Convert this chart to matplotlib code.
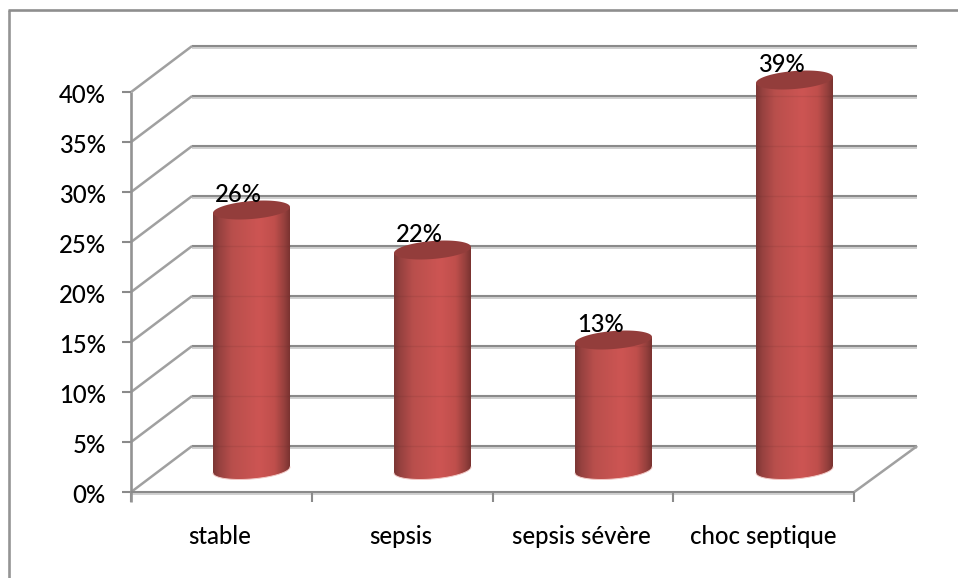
import numpy as np
import matplotlib
matplotlib.use("Agg")
import matplotlib.pyplot as plt
from matplotlib.colors import LinearSegmentedColormap
from matplotlib.path import Path
from matplotlib.patches import PathPatch

plt.rcParams["font.family"] = ["Lato", "DejaVu Sans"]
plt.rcParams["font.weight"] = 500

categories = ["stable", "sepsis", "sepsis sévère", "choc septique"]
values = [26, 22, 13, 39]
labels = ["26%", "22%", "13%", "39%"]
y_ticks = [0, 5, 10, 15, 20, 25, 30, 35, 40]

W, H = 958, 578
GRID = "#8a8a8a"
GRID_SOFT = "#c8c8c8"
FONT = 17.2

fig = plt.figure(figsize=(W / 100, H / 100), dpi=100)
ax = fig.add_axes([0, 0, 1, 1])

# Data space: x in category slots, y in percent, both linear across the canvas.
SLOT = 181.0
X0 = 251.5
Y0 = 470.0
PER_PCT = 10.0
XLIM = (-X0 / SLOT, (W - X0) / SLOT)
YLIM = ((Y0 - H) / PER_PCT, Y0 / PER_PCT)
ax.set_xlim(*XLIM)
ax.set_ylim(*YLIM)
ax.axis("off")

# Oblique depth of the 3D box, in data units.
FRONT_X, FRONT_DY = -0.665, -2.2
BACK_X, BACK_DY = -0.328, 2.4
RIGHT_FRONT = 3.33
RIGHT_BACK = 3.678
Y_MAX = y_ticks[-1]


def line(xs, ys, color=GRID, lw=1.5, z=2):
    ax.plot(xs, ys, color=color, lw=lw, solid_capstyle="butt", zorder=z)


# Outer frame, open at the right and bottom.
fx0, fx1 = (9 - X0) / SLOT, XLIM[1]
fy0, fy1 = YLIM[0], (Y0 - 9.5) / PER_PCT
line([fx0, fx0], [fy0, fy1], "#949494", 1.9)
line([fx0 - 0.006, fx1], [fy1, fy1], "#8e8e8e", 1.9)

# Back wall grid lines and the oblique side wall lines.
for t in y_ticks:
    line([BACK_X, RIGHT_BACK], [t + BACK_DY, t + BACK_DY], GRID, 1.5)
    line([BACK_X, RIGHT_BACK], [t + BACK_DY - 0.17, t + BACK_DY - 0.17], GRID_SOFT, 1.2, 1)
    line([FRONT_X, BACK_X], [t + FRONT_DY, t + BACK_DY], "#a0a0a0", 1.8)
    # Tick to the left of the value axis.
    line([FRONT_X - 0.05, FRONT_X], [t + FRONT_DY, t + FRONT_DY], GRID, 1.5)
    ax.text(FRONT_X - 0.14, t + FRONT_DY - 0.15, f"{t}%", ha="right", va="center_baseline",
            fontsize=FONT, color="black")

# Front edges of the floor and the value axis.
line([FRONT_X, FRONT_X], [FRONT_DY - 0.95, Y_MAX + FRONT_DY], "#939393", 1.9, 3)
line([FRONT_X, RIGHT_FRONT], [FRONT_DY, FRONT_DY], GRID, 1.5, 3)
line([FRONT_X, RIGHT_FRONT], [FRONT_DY - 0.17, FRONT_DY - 0.17], GRID_SOFT, 1.2, 2)
line([RIGHT_FRONT, RIGHT_BACK], [FRONT_DY, BACK_DY], "#a0a0a0", 1.8)
for i in range(5):
    x = FRONT_X + i * (RIGHT_FRONT - FRONT_X) / 4
    line([x, x], [FRONT_DY - 0.95, FRONT_DY], GRID, 1.5)

# Cylinders: horizontal shading clipped to the body, with a tilted elliptical cap.
shade = LinearSegmentedColormap.from_list(
    "cyl",
    [(0.00, "#7b3634"), (0.08, "#96413f"), (0.25, "#b94f4c"), (0.60, "#cd5553"),
     (0.80, "#c04f4c"), (0.93, "#95403d"), (1.00, "#7a3230")],
)
gradient = np.linspace(0, 1, 256)[None, :]
HALF = 38.5 / SLOT
CAP_H = 0.9
TILT = 0.3
ct = np.linspace(0, 2 * np.pi, 120)
for i, (name, v, lab) in enumerate(zip(categories, values, labels)):
    lower = ct[(ct >= np.pi)]
    bx = i + HALF * np.cos(lower)
    by = CAP_H * np.sin(lower) + TILT * np.cos(lower)
    verts = list(zip(bx, by)) + [(i + HALF, v + TILT), (i - HALF, v - TILT), (bx[0], by[0])]
    codes = [Path.MOVETO] + [Path.LINETO] * (len(verts) - 2) + [Path.CLOSEPOLY]
    body = PathPatch(Path(verts, codes), fc="none", ec="none", zorder=5)
    ax.add_patch(body)
    im = ax.imshow(gradient, extent=[i - HALF, i + HALF, -2, v + 2], aspect="auto",
                   cmap=shade, zorder=5, interpolation="bilinear")
    im.set_clip_path(body)
    # Wall lines show faintly through the cylinder.
    for t in y_ticks:
        if t + BACK_DY < v:
            ax.plot([i - HALF, i + HALF], [t + BACK_DY] * 2, color="#5a2a28", lw=1.0,
                    alpha=0.12, zorder=6, solid_capstyle="butt")
    # Pale rim along the lower edge.
    ax.plot(bx, by, color="#f2c9c6", lw=0.7, zorder=6)
    # Cap tilted upward to the right.
    ax.fill(i + HALF * np.cos(ct), v + CAP_H * np.sin(ct) + TILT * np.cos(ct),
            color="#933d3b", lw=0, zorder=7)
    ax.text(i - 0.07, v + 1.8, lab, ha="center", va="center_baseline", fontsize=FONT,
            color="black", zorder=8)
    ax.text(i - 0.175, -6.5, name, ha="center", va="center_baseline", fontsize=FONT,
            color="black")

ax.set_xlim(*XLIM)
ax.set_ylim(*YLIM)

fig.savefig("out.png", dpi=100, facecolor="white")
